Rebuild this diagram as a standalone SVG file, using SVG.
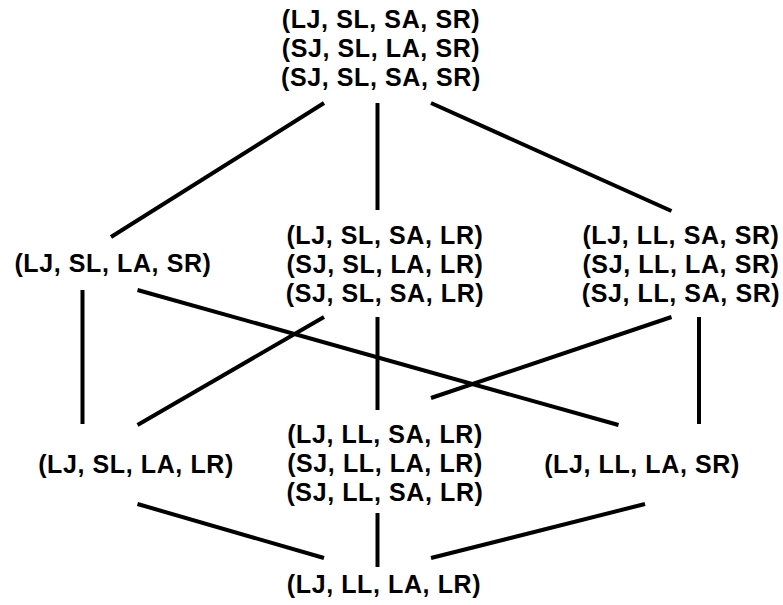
<svg xmlns="http://www.w3.org/2000/svg" width="783" height="605" viewBox="0 0 783 605">
<style>
text{font-family:"Liberation Sans",Arial,sans-serif;font-weight:bold;font-size:25px;letter-spacing:0.6px;text-anchor:middle;fill:#000}
.e{stroke:#000;stroke-width:4;fill:none}
</style>
<rect width="783" height="605" fill="#fff"/>
<g id="connectors">
<line class="e" x1="324" y1="103" x2="111" y2="237"/>
<line class="e" x1="377.5" y1="103" x2="377.5" y2="210"/>
<line class="e" x1="431" y1="103" x2="671.5" y2="211"/>
<line class="e" x1="82.5" y1="290" x2="82.5" y2="424"/>
<line class="e" x1="137.5" y1="290" x2="618.5" y2="425"/>
<line class="e" x1="324" y1="317" x2="137.5" y2="425"/>
<line class="e" x1="377.5" y1="317" x2="377.5" y2="410"/>
<line class="e" x1="671.5" y1="317" x2="431" y2="398"/>
<line class="e" x1="699" y1="317" x2="699" y2="424"/>
<line class="e" x1="137.5" y1="504" x2="324" y2="558"/>
<line class="e" x1="377.5" y1="513" x2="377.5" y2="567"/>
<line class="e" x1="645" y1="504" x2="431" y2="558"/>
</g>
<g id="n_top">
<text x="381" y="28">(LJ, SL, SA, SR)</text>
<text x="381" y="57">(SJ, SL, LA, SR)</text>
<text x="381" y="86">(SJ, SL, SA, SR)</text>
</g>
<g id="n_ljsllasr">
<text x="113" y="272">(LJ, SL, LA, SR)</text>
</g>
<g id="n_midlr">
<text x="385" y="244">(LJ, SL, SA, LR)</text>
<text x="385" y="273">(SJ, SL, LA, LR)</text>
<text x="385" y="302">(SJ, SL, SA, LR)</text>
</g>
<g id="n_ll_sr">
<text x="681" y="244">(LJ, LL, SA, SR)</text>
<text x="681" y="273">(SJ, LL, LA, SR)</text>
<text x="681" y="302">(SJ, LL, SA, SR)</text>
</g>
<g id="n_ljsllalr">
<text x="136" y="473">(LJ, SL, LA, LR)</text>
</g>
<g id="n_ll_lr">
<text x="385" y="443">(LJ, LL, SA, LR)</text>
<text x="385" y="472">(SJ, LL, LA, LR)</text>
<text x="385" y="501">(SJ, LL, SA, LR)</text>
</g>
<g id="n_ljlllasr">
<text x="642" y="473">(LJ, LL, LA, SR)</text>
</g>
<g id="n_bottom">
<text x="384" y="593">(LJ, LL, LA, LR)</text>
</g>
</svg>
